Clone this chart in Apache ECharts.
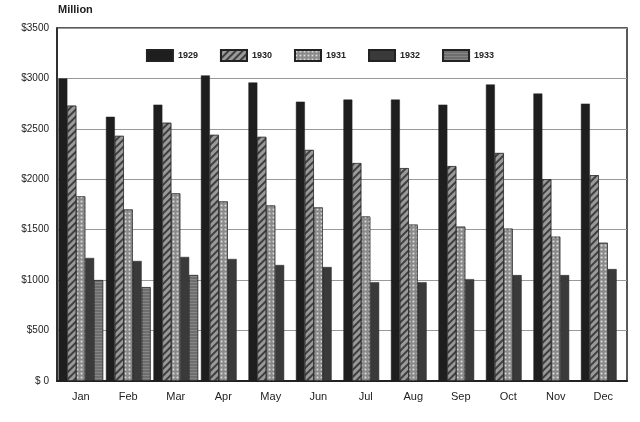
<!DOCTYPE html>
<html><head><meta charset="utf-8">
<script src="https://cdn.jsdelivr.net/npm/echarts@6/dist/echarts.min.js"></script>
<style>html,body{margin:0;background:#fff}#c{width:640px;height:422px}</style>
</head><body><div id="c"></div>
<script>
const months = ['Jan','Feb','Mar','Apr','May','Jun','Jul','Aug','Sep','Oct','Nov','Dec'];
const y1929 = [3000,2620,2740,3030,2960,2770,2790,2790,2740,2940,2850,2750];
const y1930 = [2730,2430,2560,2440,2420,2290,2160,2110,2130,2260,2000,2040];
const y1931 = [1830,1700,1860,1780,1740,1720,1630,1550,1530,1510,1430,1370];
const y1932 = [1220,1190,1230,1210,1150,1130,980,980,1010,1050,1050,1110];
const y1933 = [1000,930,1050,null,null,null,null,null,null,null,null,null];
const names = ['1929','1930','1931','1932','1933'];
const data = [y1929,y1930,y1931,y1932,y1933];
const colors = ['#1e1e1e','#9a9a9a','#8a8a8a','#3a3a3a','#6e6e6e'];
const decals = [null,
 {symbol:'rect',symbolSize:1,dashArrayX:[1,0],dashArrayY:[2,3],rotation:-Math.PI/4,color:'rgba(40,40,40,0.8)'},
 {symbol:'rect',symbolSize:0.6,dashArrayX:[[3,1]],dashArrayY:[3,1],color:'rgba(230,230,230,0.9)'},
 null,
 {symbol:'rect',symbolSize:1,dashArrayX:[1,0],dashArrayY:[1,2],color:'rgba(150,150,150,0.6)'}];
const chart = echarts.init(document.getElementById('c'));
chart.setOption({
 animation:false,
 textStyle:{fontFamily:'Liberation Sans, Arial'},
 graphic:[{type:'text',left:58,top:4,style:{text:'Million',font:'bold 11px Liberation Sans',fill:'#222'}}],
 legend:{top:44,left:'center',icon:'rect',itemWidth:26,itemHeight:11,itemGap:22,textStyle:{fontSize:9,fontWeight:'bold',color:'#222'},data:names},
 grid:{left:57,right:13,top:28,bottom:41,show:true,borderColor:'#222',borderWidth:1.5},
 xAxis:{type:'category',data:months,axisTick:{show:false},axisLine:{lineStyle:{color:'#222',width:2}},
   axisLabel:{color:'#222',fontSize:11,margin:10}},
 yAxis:{type:'value',min:0,max:3500,interval:500,
   axisLine:{show:true,lineStyle:{color:'#222',width:1.5}},axisTick:{show:false},
   axisLabel:{color:'#222',fontSize:10,formatter:v=>'$'+(v===0?' 0':v)},
   splitLine:{lineStyle:{color:'#999',type:'solid',width:1}}},
 series:names.map((n,i)=>({name:n,type:'bar',data:data[i],barGap:'0%',barCategoryGap:'6%',
   itemStyle:{color:colors[i],borderColor:'#222',borderWidth:0.5,decal:decals[i]||undefined}}))
});
</script></body></html>
